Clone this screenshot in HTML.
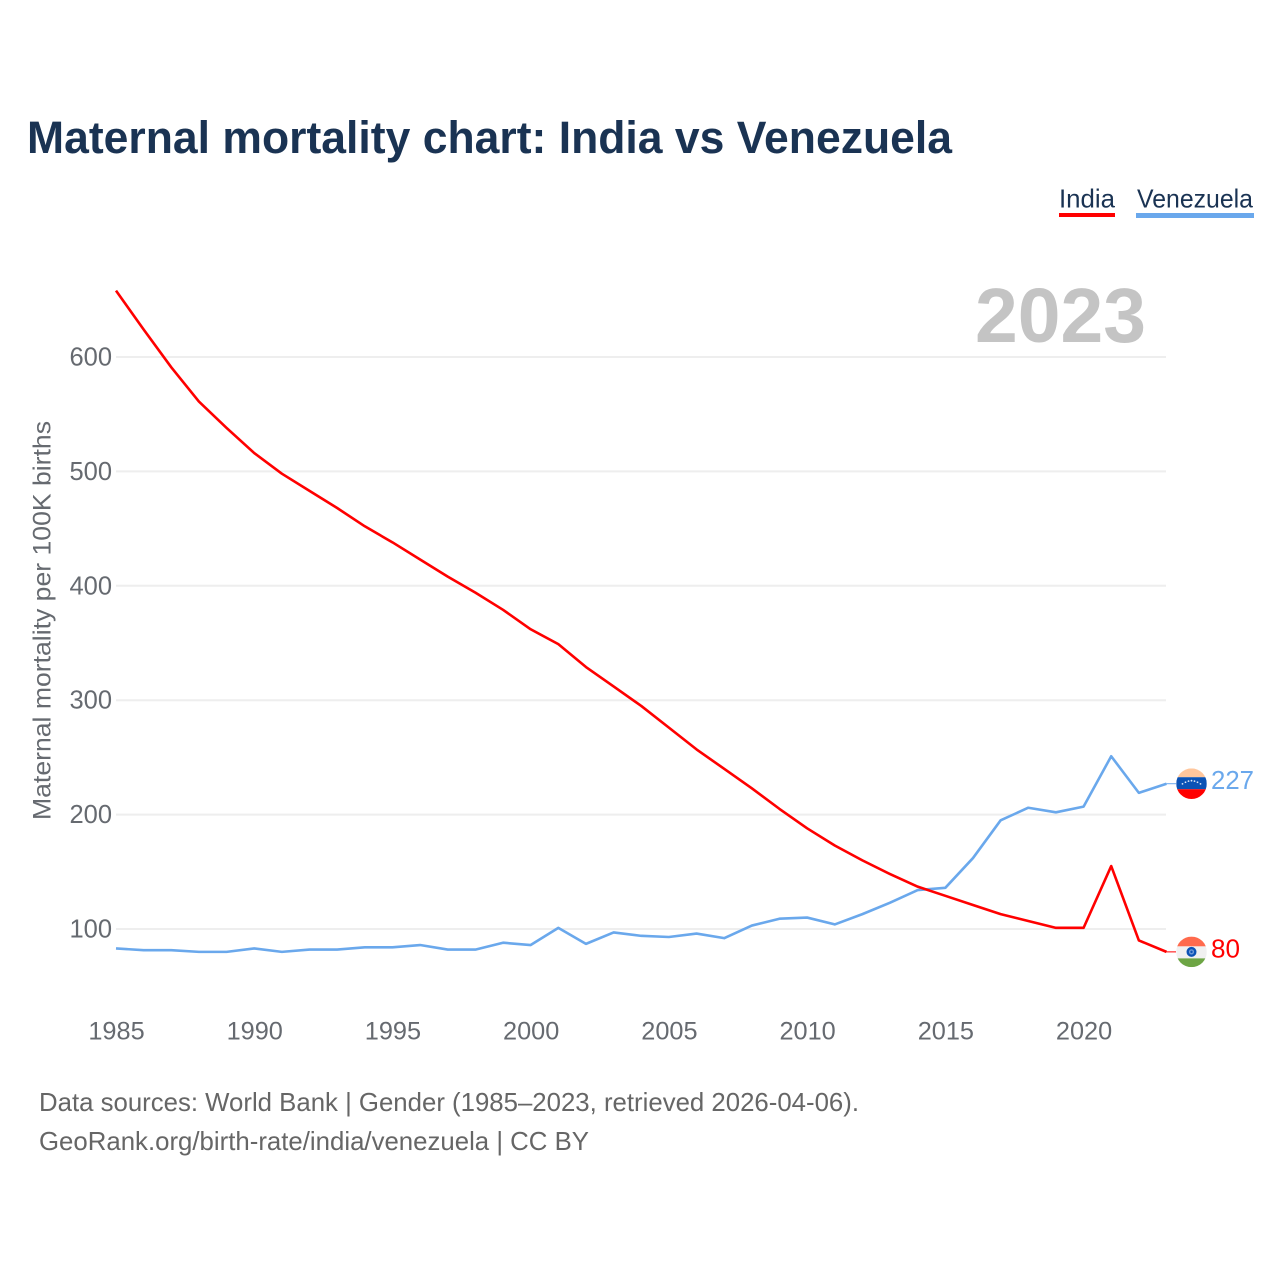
<!DOCTYPE html>
<html>
<head>
<meta charset="utf-8">
<title>Maternal mortality chart: India vs Venezuela</title>
<style>
html,body{margin:0;padding:0;background:#fff;}
svg{display:block;font-family:"Liberation Sans",sans-serif;}
</style>
</head>
<body>
<svg id="chart" width="1280" height="1280" viewBox="0 0 1280 1280" xmlns="http://www.w3.org/2000/svg">
  <rect width="1280" height="1280" fill="#fff"/>
  <text x="27" y="153" font-size="45" font-weight="bold" fill="#1a3353" textLength="925" lengthAdjust="spacingAndGlyphs">Maternal mortality chart: India vs Venezuela</text>
  <g>
    <g>
      <text x="1059" y="207.5" font-size="26" fill="#1a3353" textLength="56" lengthAdjust="spacingAndGlyphs">India</text>
      <rect x="1059" y="213" width="56" height="4" fill="#ff0000"/>
    </g>
    <g>
      <text x="1137" y="207.5" font-size="26" fill="#1a3353" textLength="116" lengthAdjust="spacingAndGlyphs">Venezuela</text>
      <rect x="1136" y="213" width="118" height="5" fill="#6aa8ec"/>
    </g>
  </g>
  <text transform="translate(50.5,820) rotate(-90)" font-size="25" fill="#666a70" textLength="399" lengthAdjust="spacingAndGlyphs">Maternal mortality per 100K births</text>
  <text x="975" y="342" font-size="77" font-weight="bold" fill="#c4c4c4" textLength="171" lengthAdjust="spacingAndGlyphs">2023</text>
  <g id="grid"></g>
  <g id="yticks"></g>
  <g id="xticks"></g>
  <g id="series"></g>
  <g id="ends"></g>
  <text x="39" y="1111" font-size="26" fill="#666666" textLength="820" lengthAdjust="spacingAndGlyphs">Data sources: World Bank | Gender (1985–2023, retrieved 2026-04-06).</text>
  <text x="39" y="1150" font-size="26" fill="#666666" textLength="550" lengthAdjust="spacingAndGlyphs">GeoRank.org/birth-rate/india/venezuela | CC BY</text>
</svg>
<script>
const years = [1985,1986,1987,1988,1989,1990,1991,1992,1993,1994,1995,1996,1997,1998,1999,2000,2001,2002,2003,2004,2005,2006,2007,2008,2009,2010,2011,2012,2013,2014,2015,2016,2017,2018,2019,2020,2021,2022,2023];
const indiaValues = [658,624,591,561,538,516,498,483,468,452,438,423,408,394,379,362,349,329,312,295,276,257,240,223,205,188,173,160,148,137,129,121,113,107,101,101,155,90,80];
const venezuelaValues = [83,81.5,81.5,80,80,83,80,82,82,84,84,86,82,82,88,86,101,87,97,94,93,96,92,103,109,110,104,113,123,134,136,162,195,206,202,207,251,219,227];
const yTickValues = [100,200,300,400,500,600];
const xTickValues = [1985,1990,1995,2000,2005,2010,2015,2020];

const NS = 'http://www.w3.org/2000/svg';
const x = function (yr) { return 116 + (yr - 1985) * (1166.5 - 116) / 38; };
const y = function (v) { return 929 - (v - 100) * 1.144; };
const make = function (tag, parent, attrs) {
  const el = document.createElementNS(NS, tag);
  for (const k in attrs) el.setAttribute(k, attrs[k]);
  parent.appendChild(el);
  return el;
};

const grid = document.getElementById('grid');
const yticks = document.getElementById('yticks');
yTickValues.forEach(function (v) {
  const line = make('line', grid, {x1: 116, x2: 1166, y1: y(v), y2: y(v), stroke: '#eeeeee', 'stroke-width': 2});
  
  
  const t = make('text', yticks, {x: 112, y: y(v) + 8.5, 'text-anchor': 'end', 'font-size': 25.5, fill: '#666a70'});
  
  
  t.textContent = v;
});

const xticks = document.getElementById('xticks');
xTickValues.forEach(function (yr) {
  const t = make('text', xticks, {x: x(yr) + 0.5, y: 1039.5, 'text-anchor': 'middle', 'font-size': 25.3, fill: '#666a70'});
  
  
  t.textContent = yr;
});

const series = document.getElementById('series');
const pts = function (vals) {
  return vals.map(function (v, i) { return x(years[i]).toFixed(2) + ',' + y(v).toFixed(2); }).join(' ');
};
const venezuelaLine = make('polyline', series, {points: pts(venezuelaValues), fill: 'none', stroke: '#6aa8ec', 'stroke-width': 2.6, 'stroke-linejoin': 'round'});


const indiaLine = make('polyline', series, {points: pts(indiaValues), fill: 'none', stroke: '#ff0000', 'stroke-width': 2.6, 'stroke-linejoin': 'round'});



const ends = document.getElementById('ends');
const lastX = x(years[years.length - 1]);
const flagX = 1191.5;
const R = 15.3;
const defs = make('defs', ends, {});
const addFlag = function (group, id, cy, bands, cut1, cut2) {
  const clip = make('clipPath', defs, {id: id});
  make('circle', clip, {cx: flagX, cy: cy, r: R});
  const flag = make('g', group, {'clip-path': 'url(#' + id + ')'});
  make('rect', flag, {x: flagX - R, y: cy - R, width: 2 * R, height: cut1 + R, fill: bands[0]});
  make('rect', flag, {x: flagX - R, y: cy + cut1, width: 2 * R, height: cut2 - cut1, fill: bands[1]});
  make('rect', flag, {x: flagX - R, y: cy + cut2, width: 2 * R, height: R - cut2, fill: bands[2]});
  return flag;
};

const vzY = y(venezuelaValues[venezuelaValues.length - 1]);
const vzGroup = make('g', ends, {});


make('line', vzGroup, {x1: lastX, x2: 1176, y1: vzY, y2: vzY, stroke: '#6aa8ec', 'stroke-width': 1});
const vzFlag = addFlag(vzGroup, 'clip-vz', vzY, ['#ffc69c', '#0b52b5', '#ff0000'], -6.5, 5.5);


[-9, -6, -3, 0, 3, 6, 9].forEach(function (dx) {
  make('circle', vzFlag, {cx: flagX + dx, cy: vzY + 2 - 5 * Math.cos(dx / 9 * 1.2), r: 0.9, fill: '#dbe7f7'});
});
const vzLabel = make('text', vzGroup, {x: 1211, y: vzY + 5.5, 'font-size': 26, fill: '#6aa8ec', textLength: 43, lengthAdjust: 'spacingAndGlyphs'});


vzLabel.textContent = venezuelaValues[venezuelaValues.length - 1];

const inY = y(indiaValues[indiaValues.length - 1]);
const inGroup = make('g', ends, {});


make('line', inGroup, {x1: lastX, x2: 1176, y1: inY, y2: inY, stroke: '#ff0000', 'stroke-width': 1});
const inFlag = addFlag(inGroup, 'clip-in', inY, ['#ff6a4d', '#f0f0f0', '#6da544'], -5.5, 6.5);


make('circle', inFlag, {cx: flagX, cy: inY, r: 5, fill: '#0b52b5'});
make('circle', inFlag, {cx: flagX, cy: inY, r: 2.6, fill: '#6f9ad8'});
make('circle', inFlag, {cx: flagX, cy: inY, r: 1.2, fill: '#0b52b5'});
const inLabel = make('text', inGroup, {x: 1211, y: inY + 5.5, 'font-size': 26, fill: '#ff0000', textLength: 29, lengthAdjust: 'spacingAndGlyphs'});


inLabel.textContent = indiaValues[indiaValues.length - 1];
</script>
</body>
</html>
